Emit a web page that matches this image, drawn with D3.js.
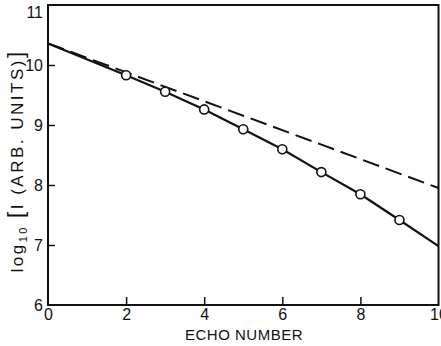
<!DOCTYPE html>
<html><head><meta charset="utf-8">
<script src="https://cdn.jsdelivr.net/npm/d3@7"></script>
<style>
html,body{margin:0;padding:0;background:#fff;}
text{font-family:"Liberation Sans",Arial,sans-serif;fill:#111;}
</style></head>
<body><svg id="c" width="441" height="346"></svg>
<script>
const xTicks = [0, 2, 4, 6, 8, 10];
const yTicks = [6, 7, 8, 9, 10, 11];
const echoNumbers = [2, 3, 4, 5, 6, 7, 8, 9];
const logIntensity = [9.83, 9.555, 9.26, 8.93, 8.595, 8.215, 7.845, 7.417];
const solidLineX = [0, 2, 3, 4, 5, 6, 7, 8, 9, 10];
const solidLineY = [10.36, 9.83, 9.555, 9.26, 8.93, 8.595, 8.215, 7.845, 7.417, 6.98];
const dashedLineX = [0, 10];
const dashedLineY = [10.36, 7.95];

const svg = d3.select("#c");
const x = d3.scaleLinear().domain([0, 10]).range([48, 438.5]);
const y = d3.scaleLinear().domain([6, 11]).range([305, 5]);

// frame
svg.append("rect").attr("x", x(0)).attr("y", y(11))
  .attr("width", x(10) - x(0)).attr("height", y(6) - y(11))
  .attr("fill", "none").attr("stroke", "#111").attr("stroke-width", 2);

// left axis (inward ticks)
const yAxis = d3.axisLeft(y).tickValues(yTicks).tickSize(-7).tickPadding(12)
  .tickFormat(d3.format("d"));
const gy = svg.append("g").attr("transform", `translate(${x(0)},0)`).call(yAxis);
gy.select(".domain").remove();
gy.selectAll(".tick line").attr("stroke", "#111").attr("stroke-width", 1.5)
  .filter(d => d === 6 || d === 11).remove();
gy.selectAll(".tick text").attr("font-size", 16).attr("fill", "#111")
  .attr("font-family", "Liberation Sans, Arial, sans-serif")
  .attr("x", -5).attr("dy", d => d === 11 ? "0.8em" : "0.35em");

// bottom axis (inward ticks)
const xAxis = d3.axisBottom(x).tickValues(xTicks).tickSize(-8).tickPadding(6)
  .tickFormat(d3.format("d"));
const gx = svg.append("g").attr("transform", `translate(0,${y(6)})`).call(xAxis);
gx.select(".domain").remove();
gx.selectAll(".tick line").attr("stroke", "#111").attr("stroke-width", 1.5)
  .filter(d => d === 0 || d === 10).remove();
gx.selectAll(".tick text").attr("font-size", 16).attr("fill", "#111")
  .attr("font-family", "Liberation Sans, Arial, sans-serif")
  .attr("y", 15).attr("dy", 0);

// lines
const line = d3.line().x(d => x(d[0])).y(d => y(d[1]));
svg.append("path").datum(dashedLineX.map((v, i) => [v, dashedLineY[i]]))
  .attr("d", line).attr("fill", "none").attr("stroke", "#111")
  .attr("stroke-width", 2).attr("stroke-dasharray", "17,7");
svg.append("path").datum(solidLineX.map((v, i) => [v, solidLineY[i]]))
  .attr("d", line).attr("fill", "none").attr("stroke", "#111")
  .attr("stroke-width", 2.2);

// points
svg.selectAll("circle.pt").data(echoNumbers.map((v, i) => [v, logIntensity[i]]))
  .enter().append("circle").attr("class", "pt")
  .attr("cx", d => x(d[0])).attr("cy", d => y(d[1])).attr("r", 4.5)
  .attr("fill", "#fff").attr("stroke", "#111").attr("stroke-width", 1.6);

// axis titles
svg.append("text").attr("x", 244).attr("y", 340).attr("text-anchor", "middle")
  .attr("font-size", 15).attr("letter-spacing", 0.5).text("ECHO NUMBER");

const yl = svg.append("text").attr("transform", "translate(23,161) rotate(-90)")
  .attr("text-anchor", "middle").attr("font-size", 17).attr("letter-spacing", 2.5);
yl.append("tspan").text("log");
yl.append("tspan").attr("font-size", 11).attr("dy", 4).text("10");
yl.append("tspan").attr("dy", -4).text(" ");
yl.append("tspan").attr("font-size", 22).text("[");
yl.append("tspan").text("I (ARB. UNITS)");
yl.append("tspan").attr("font-size", 22).text("]");
</script></body></html>
